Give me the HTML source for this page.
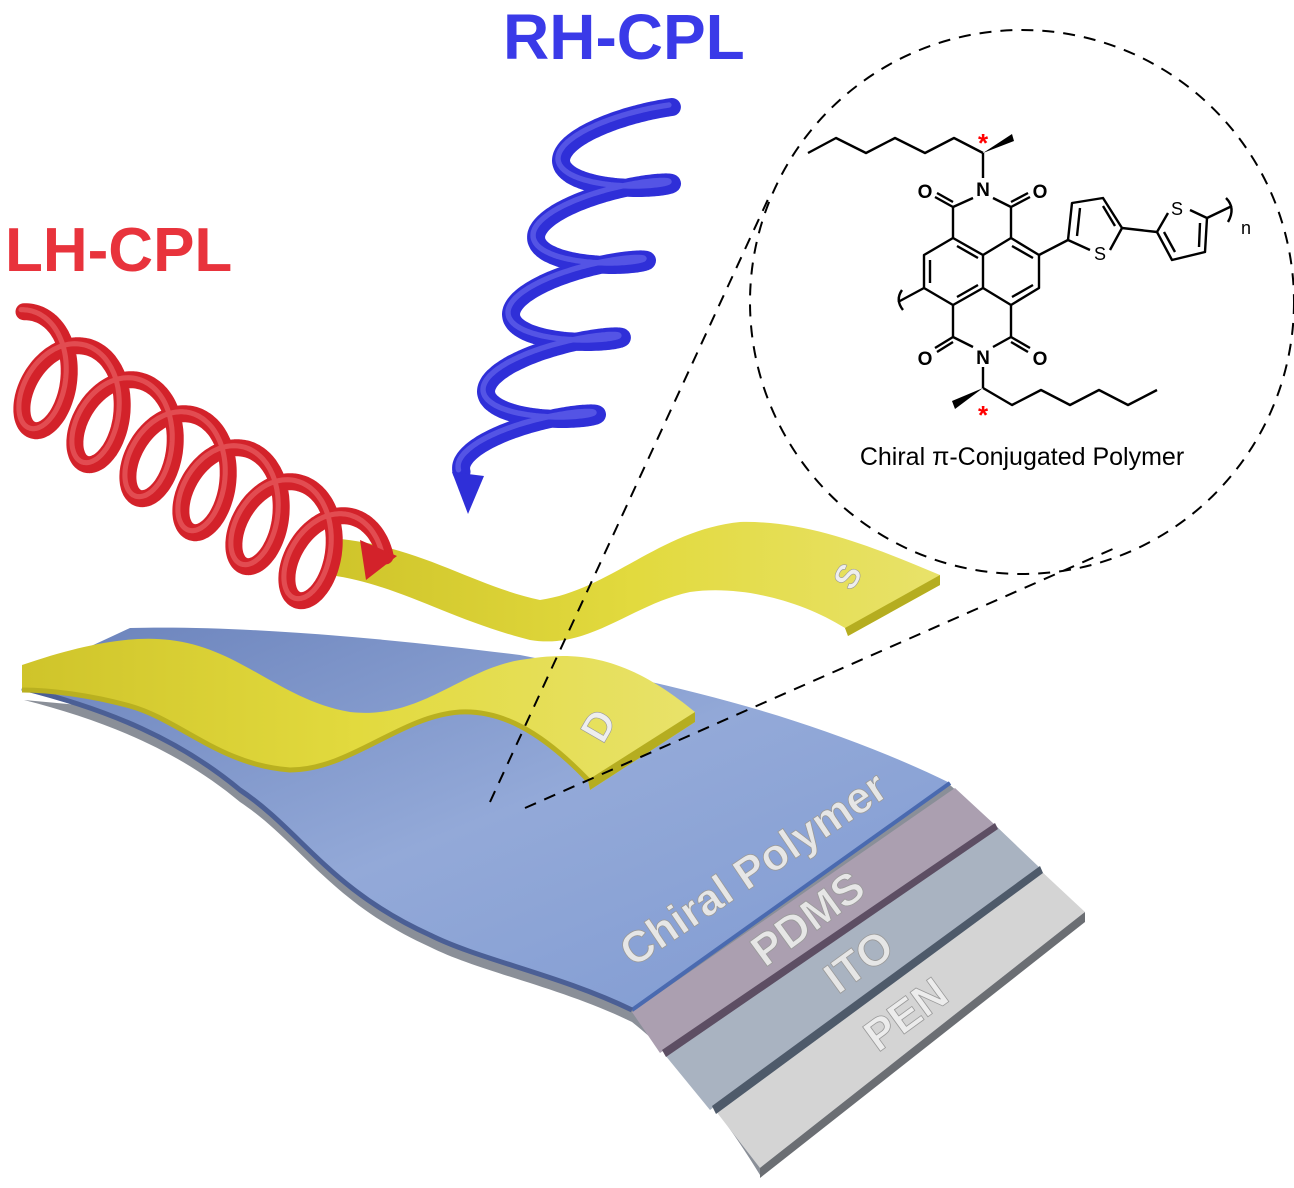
<!DOCTYPE html>
<html><head><meta charset="utf-8"><style>
html,body{margin:0;padding:0;background:#fff}
svg{display:block}
text{font-family:"Liberation Sans",Arial,sans-serif}
</style></head><body>
<svg id="s" width="1294" height="1188" viewBox="0 0 1294 1188" xmlns="http://www.w3.org/2000/svg">
<defs>
<linearGradient id="blue" x1="0" y1="0" x2="1" y2="1">
<stop offset="0" stop-color="#6a82bb"/><stop offset="0.5" stop-color="#93a9d8"/><stop offset="1" stop-color="#7f9ad2"/></linearGradient>
<linearGradient id="yel" x1="0" y1="0" x2="1" y2="0">
<stop offset="0" stop-color="#cfc42a"/><stop offset="0.5" stop-color="#e2da3e"/><stop offset="1" stop-color="#e8e26a"/></linearGradient>
</defs>
<path d="M24,700 C110,722 180,752 240,802 C300,842 330,902 430,947 C480,972 560,987 632,1022 C680,1060 720,1110 760,1175 L1085,915 L1040,870 L995,825 L950,785 Z" fill="#8a8f98"/>
<path d="M760,1168 L1085,912 L1040,870 L715,1110 Z" fill="#d4d4d4"/>
<path d="M760,1168 L1085,912 L1085,922 L760,1178 Z" fill="#6b6e73"/>
<path d="M710,1110 L1040,868 L995,825 L665,1055 Z" fill="#a9b3c1"/>
<path d="M712,1106 L1040,866 L1043,873 L716,1114 Z" fill="#4e5a6a"/>
<path d="M660,1053 L995,825 L955,788 L632,1012 Z" fill="#ab9fb0"/>
<path d="M662,1050 L995,823 L998,829 L666,1057 Z" fill="#5d4e63"/>
<path d="M22,678 L130,628 C250,625 400,640 520,655 C650,680 800,710 950,783 L632,1010 C560,975 480,960 430,935 C330,890 300,830 240,790 C180,740 110,710 22,688 Z" fill="url(#blue)"/>
<path d="M632,1010 L950,783" stroke="#4a6ab0" stroke-width="4"/>
<path d="M22,688 C110,710 180,740 240,790 C300,830 330,890 430,935 C480,960 560,975 632,1010" stroke="#4b5f95" stroke-width="5" fill="none"/>
<g fill="#e6e6e6" stroke="#9a9a9a" stroke-width="0.8" font-weight="bold">
<text x="0" y="0" font-size="44" transform="translate(633,968) rotate(-34)">Chiral Polymer</text>
<text x="0" y="0" font-size="44" transform="translate(765,968) rotate(-36)">PDMS</text>
<text x="0" y="0" font-size="44" transform="translate(838,995) rotate(-36)">ITO</text>
<text x="0" y="0" font-size="44" fill="#ececec" transform="translate(878,1053) rotate(-36)">PEN</text>
</g>
<path d="M330,538 C420,545 470,585 540,600 C610,590 660,530 740,522 C810,520 880,550 940,575 L940,585 L848,636 L845,628 C800,600 740,585 690,592 C630,605 590,650 530,640 C450,620 400,585 330,575 Z" fill="url(#yel)"/>
<path d="M845,628 L940,575 L940,585 L848,636 Z" fill="#b5ad20"/>
<text x="0" y="0" font-size="34" font-weight="bold" fill="#eee" stroke="#999" stroke-width="0.6" transform="translate(852,592) rotate(-60)">S</text>
<path d="M22,665 C80,645 130,635 170,640 C240,648 280,700 350,712 C420,720 460,670 520,660 C570,652 620,650 695,712 L695,722 L590,790 L588,780 C540,730 500,710 460,712 C400,716 350,770 290,770 C220,765 180,720 130,706 C90,695 50,690 22,690 Z" fill="url(#yel)"/>
<path d="M588,780 L695,712 L695,722 L590,790 Z" fill="#b5ad20"/>
<path d="M22,690 C50,690 90,695 130,706 C180,720 220,765 290,770 C350,770 400,716 460,712 C500,710 540,730 588,780" stroke="#b9b020" stroke-width="5" fill="none"/>
<text x="0" y="0" font-size="40" font-weight="bold" fill="#eee" stroke="#999" stroke-width="0.6" transform="translate(603,745) rotate(-60)">D</text>
<g stroke="#000" stroke-width="2" stroke-dasharray="12,9" fill="none">
<line x1="490" y1="802" x2="770" y2="195"/>
<line x1="525" y1="808" x2="1115" y2="548"/>
<circle cx="1022" cy="302" r="272"/>
</g>
<g id="helix"></g>
<text x="503" y="59" font-size="64" font-weight="bold" fill="#3a3ae8">RH-CPL</text>
<text x="5" y="271" font-size="62" font-weight="bold" fill="#e8333c">LH-CPL</text>
<g stroke="#000" stroke-width="2.4" fill="none" stroke-linejoin="round">
<polyline points="808,153 836,138 866,153 895,138 925,153 954,138 983,153"/>
<line x1="983" y1="153" x2="983" y2="178"/>
<line x1="973" y1="198" x2="953" y2="207"/><line x1="993" y1="198" x2="1011" y2="207"/>
<line x1="953" y1="207" x2="935" y2="197"/><line x1="953" y1="202" x2="937" y2="193"/>
<line x1="1011" y1="207" x2="1030" y2="197"/><line x1="1011" y1="202" x2="1028" y2="193"/>
<line x1="953" y1="207" x2="953" y2="238"/><line x1="1011" y1="207" x2="1011" y2="238"/>
<polygon points="953,238 983,255 1011,238 1039,255 1039,288 1011,305 983,288 953,305 924,288 924,255"/>
<line x1="983" y1="255" x2="983" y2="288"/>
<line x1="930" y1="260" x2="930" y2="283"/>
<line x1="957" y1="246" x2="978" y2="258"/>
<line x1="957" y1="297" x2="978" y2="285"/>
<line x1="1012" y1="246" x2="1033" y2="258"/>
<line x1="1012" y1="297" x2="1033" y2="285"/>
<line x1="953" y1="305" x2="953" y2="337"/><line x1="1011" y1="305" x2="1011" y2="337"/>
<line x1="953" y1="337" x2="973" y2="347"/><line x1="1011" y1="337" x2="993" y2="347"/>
<line x1="953" y1="337" x2="935" y2="348"/><line x1="953" y1="342" x2="937" y2="352"/>
<line x1="1011" y1="337" x2="1030" y2="348"/><line x1="1011" y1="342" x2="1028" y2="352"/>
<line x1="983" y1="367" x2="983" y2="388"/>
<polyline points="983,388 1012,405 1041,390 1070,405 1099,390 1128,405 1157,390"/>
<line x1="924" y1="288" x2="898" y2="302"/>
<path d="M902,290 Q895,300 903,310"/>
<line x1="1039" y1="255" x2="1068" y2="240"/>
<polyline points="1090,250 1068,240 1072,203 1103,198 1122,228 1110,250"/>
<line x1="1077" y1="236" x2="1080" y2="208"/><line x1="1103" y1="206" x2="1115" y2="226"/>
<line x1="1122" y1="228" x2="1157" y2="232"/>
<polyline points="1168,213 1157,232 1172,260 1205,252 1207,218 1190,210"/>
<line x1="1164" y1="232" x2="1175" y2="252"/><line x1="1200" y1="223" x2="1199" y2="247"/>
<line x1="1207" y1="218" x2="1232" y2="206"/>
<path d="M1226,198 Q1236,208 1228,222"/>
</g>
<polygon points="983,153 1012,134 1014,141" fill="#000"/>
<polygon points="983,388 952,401 955,409" fill="#000"/>
<g font-size="19" font-weight="bold" fill="#000" text-anchor="middle">
<text x="983" y="196">N</text><text x="983" y="364">N</text>
<text x="925" y="198">O</text><text x="1040" y="198">O</text>
<text x="925" y="365">O</text><text x="1040" y="365">O</text>
</g>
<g font-size="18" fill="#000" text-anchor="middle">
<text x="1100" y="260">S</text><text x="1177" y="215">S</text><text x="1246" y="234">n</text>
</g>
<g font-size="26" font-weight="bold" fill="#f00" text-anchor="middle">
<text x="983" y="152">*</text><text x="983" y="424">*</text>
</g>
<text x="1022" y="465" font-size="25" fill="#000" text-anchor="middle">Chiral π-Conjugated Polymer</text>
</svg>
<script>
(function(){
var g=document.getElementById('helix');
var ns='http://www.w3.org/2000/svg';
function hel(cx0,cy0,dx,dy,rx,ry,rot,t0,t1){
 var pts=[],c=Math.cos(rot),s=Math.sin(rot);
 for(var t=t0;t<=t1;t+=0.05){
  var f=(t-t0)/(2*Math.PI);
  var x=rx*Math.cos(t), y=ry*Math.sin(t);
  pts.push([cx0+dx*f + x*c - y*s, cy0+dy*f + x*s + y*c]);
 }
 return pts;
}
function draw(pts,col,hi,w){
 var d='M'+pts.map(function(p){return p[0].toFixed(1)+','+p[1].toFixed(1)}).join(' L');
 [[col,w],[hi,w*0.3]].forEach(function(a,i){
  var p=document.createElementNS(ns,'path');
  p.setAttribute('d',d);p.setAttribute('fill','none');
  p.setAttribute('stroke',a[0]);p.setAttribute('stroke-width',a[1]);
  p.setAttribute('stroke-linecap','round');p.setAttribute('stroke-linejoin','round');
  if(i==1){p.setAttribute('opacity','0.35');p.setAttribute('transform','translate(-3,-2)');}
  g.appendChild(p);
 });
}
draw(hel(20,362,53,34,34,52,0.3,-1.9,-1.9+6*2*Math.PI+1.4),'#d3222a','#ff9a9a',17);
draw(hel(522,462,25,-77,62,16,-0.12,Math.PI*0.95,Math.PI*0.95+4.4*2*Math.PI),'#2f2fd8','#9a9aff',18);
var a=document.createElementNS(ns,'polygon');
a.setAttribute('points','360,540 397,556 366,580');a.setAttribute('fill','#d3222a');g.appendChild(a);
var b=document.createElementNS(ns,'polygon');
b.setAttribute('points','452,472 468,514 484,476');b.setAttribute('fill','#2f2fd8');g.appendChild(b);
})();
</script>
</body></html>
